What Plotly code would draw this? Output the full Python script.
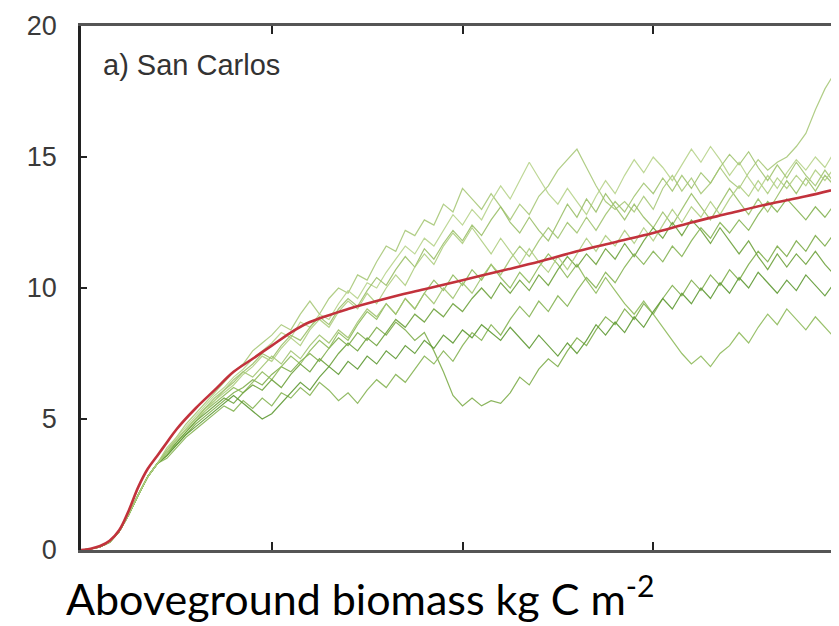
import plotly.graph_objects as go

# time grid (years) for the green stochastic runs: 0..400 step 5
T_STEP = 5
START = [0, 0.04, 0.12, 0.3, 0.7, 1.35, 2.1, 2.8, 3.3]  # t = 0..40

RUN_1 = START + [
    3.9, 4.3, 4.8, 5.2, 5.6, 6.0, 6.4, 6.8,
    7.1, 7.6, 7.9, 8.2, 8.6, 8.4, 9.0, 9.5,
    9.0, 9.6, 10.0, 9.8, 10.5, 10.3, 11.0, 11.6,
    11.4, 12.2, 12.0, 12.6, 12.4, 13.2, 12.9, 13.8,
    13.4, 13.0, 13.6, 13.1, 12.6, 13.2, 12.8, 13.5,
    13.9, 14.5, 14.9, 15.3, 14.6, 13.9, 13.3, 13.0,
    13.3, 12.9, 13.5, 13.0, 13.8, 14.3, 13.7, 14.2,
    13.6, 14.0, 14.6, 14.1, 13.8, 14.4, 14.9, 14.5,
    14.8, 15.0, 15.4, 15.9, 16.8, 17.6, 18.2, 17.4]
RUN_2 = START + [
    3.8, 4.3, 4.7, 5.1, 5.5, 5.9, 6.2, 6.6,
    6.9, 7.3, 7.6, 7.9, 8.3, 8.1, 8.7, 8.5,
    9.0, 8.8, 9.4, 9.9, 9.6, 10.2, 10.0, 10.6,
    11.1, 11.6, 11.3, 11.9, 11.6, 12.2, 12.8, 12.4,
    13.0, 12.6, 13.3, 13.9, 13.4, 14.1, 14.8, 14.2,
    13.6, 13.2, 13.8, 13.3, 12.8, 13.5, 14.1, 13.6,
    14.3, 14.9, 14.4, 15.0, 14.6, 14.1, 14.7, 15.3,
    14.8, 15.4, 14.9, 14.3, 14.8, 14.2, 13.7, 14.3,
    13.8, 14.4, 14.9, 14.5, 15.0, 14.6, 15.2, 15.1]
RUN_3 = START + [
    3.7, 4.2, 4.6, 5.0, 5.4, 5.7, 6.1, 6.4,
    6.8, 7.1, 7.5, 7.3, 7.8, 8.2, 8.0, 8.5,
    8.9, 8.6, 9.2, 9.6, 9.3, 9.9, 10.4, 10.1,
    10.7, 11.2, 10.8, 11.5, 11.1, 11.7, 12.2, 11.8,
    12.4, 12.0, 12.6, 13.1, 12.5, 12.1, 12.7, 12.2,
    11.8, 12.5, 13.2, 12.7, 13.4, 12.9, 13.6, 13.1,
    12.6, 13.2, 12.7, 12.3, 12.9, 12.4, 13.0, 13.6,
    13.1, 12.6, 13.2, 13.8, 13.3, 12.8, 13.4, 12.9,
    13.5, 14.1, 13.6, 14.2, 13.7, 14.3, 13.9, 14.4]
RUN_4 = START + [
    3.6, 4.0, 4.4, 4.8, 5.1, 5.4, 5.7, 6.0,
    6.2, 6.5, 6.3, 6.7, 7.0, 6.8, 7.2, 7.5,
    7.2, 7.7, 8.1, 7.8, 8.3, 8.0, 8.5, 8.2,
    8.7, 8.4, 8.0, 8.3, 7.6, 6.8, 5.9, 5.5,
    5.8, 5.5, 5.7, 5.6, 6.0, 6.6, 6.3, 6.9,
    7.3, 7.0, 7.6, 8.1, 7.8, 8.4, 8.9, 8.6,
    9.2, 8.8, 9.4, 9.0, 9.6, 10.1, 9.7, 10.3,
    9.9, 10.5, 10.1, 10.7, 10.3, 10.9, 11.4, 11.0,
    11.6, 11.2, 11.8, 11.4, 12.0, 11.6, 12.1, 11.7]
RUN_5 = START + [
    3.6, 4.1, 4.5, 4.9, 5.3, 5.6, 5.9, 6.2,
    6.0, 6.4, 6.8, 6.5, 7.0, 7.4, 7.1, 7.6,
    8.0, 7.7, 8.3, 8.0, 8.6, 9.1, 8.8, 9.4,
    9.0, 9.6, 9.2, 9.8, 10.3, 9.9, 10.5, 10.1,
    10.7, 10.3, 10.9, 10.4, 10.0, 10.6, 10.2, 10.8,
    11.3, 10.9, 10.4, 10.9, 10.3, 9.8, 10.4, 9.9,
    9.4, 9.0, 9.5, 9.0, 8.5, 8.0, 7.5, 7.1,
    7.4, 7.0, 7.5, 7.8, 8.3, 7.9, 8.5, 9.0,
    8.6, 9.2, 8.8, 8.4, 8.9, 8.5, 8.1, 7.8]
RUN_6 = START + [
    3.7, 4.1, 4.5, 4.9, 5.2, 5.5, 5.8, 5.6,
    6.0, 6.3, 6.1, 6.5, 6.2, 6.7, 7.1, 6.8,
    7.3, 7.0, 7.5, 7.9, 7.6, 8.1, 7.8, 8.3,
    8.8, 8.5, 9.0, 8.7, 9.2, 8.9, 9.4, 9.1,
    9.6, 10.0, 9.6, 10.2, 9.8, 10.3, 9.9, 10.5,
    10.1, 10.7, 11.2, 10.8, 11.3, 10.9, 11.5, 11.1,
    11.7, 11.2, 11.8, 12.3, 11.9, 12.5, 12.0, 12.6,
    12.2, 11.7, 12.3, 11.8, 11.3, 11.8, 11.2, 10.7,
    11.3, 10.8, 11.3, 10.9, 11.4, 10.9, 10.5, 10.6]
RUN_7 = START + [
    3.5, 3.9, 4.3, 4.6, 4.9, 5.2, 5.5, 5.3,
    5.7, 5.4, 5.8, 5.5, 6.0, 5.8, 6.2, 5.9,
    6.4, 6.1, 5.7, 6.0, 5.6, 6.1, 6.5, 6.2,
    6.7, 6.4, 6.9, 7.4, 7.1, 7.6, 7.2, 7.8,
    8.3, 8.0, 8.6, 8.2, 8.8, 9.3, 8.9, 9.5,
    9.1, 9.7, 9.3, 9.9, 10.4, 10.0, 10.6, 10.2,
    10.8, 11.3, 10.9, 11.4, 11.0, 11.6, 11.2, 11.8,
    12.3, 11.9, 12.5, 12.1, 12.6, 12.2, 12.8, 13.3,
    12.9, 13.4, 13.0, 12.6, 13.1, 12.7, 13.2, 12.8]
RUN_8 = START + [
    3.6, 4.0, 4.4, 4.7, 5.0, 5.3, 5.6, 5.9,
    5.6, 5.3, 5.0, 5.2, 5.6, 6.0, 6.4, 6.1,
    6.6, 7.0, 6.7, 7.2, 6.9, 7.4, 7.1, 7.6,
    7.3, 7.8, 7.5, 8.0, 7.7, 8.2, 7.9, 8.4,
    8.1, 8.6, 8.3, 8.0, 8.5, 8.1, 7.7, 8.2,
    7.8, 7.4, 7.9, 7.5, 8.0, 8.6, 8.2, 8.7,
    8.3, 8.9, 8.5, 9.1, 9.6, 9.2, 9.8, 9.4,
    10.0, 9.6, 10.2, 9.8, 10.4, 10.0, 10.6, 10.2,
    9.8, 10.3, 9.9, 10.5, 10.1, 9.7, 10.2, 9.6]
RUN_9 = START + [
    3.8, 4.2, 4.6, 5.0, 5.4, 5.8, 6.1, 6.5,
    6.8, 6.6, 7.0, 7.4, 7.1, 7.6, 7.3, 7.8,
    8.2, 7.9, 8.4, 8.1, 8.7, 9.2, 8.9, 9.4,
    9.0, 9.6, 9.2, 9.8, 9.4, 10.0, 9.6, 10.2,
    9.8, 10.4, 10.9, 10.5, 11.1, 11.6, 11.2, 11.8,
    12.3, 11.9, 12.5, 12.1, 12.7, 12.2, 12.8, 13.3,
    12.9, 13.5, 14.0, 13.6, 14.2, 13.7, 14.3, 13.8,
    14.4, 14.0, 14.6, 15.1, 14.7, 15.2, 14.6, 14.1,
    14.7, 14.2, 14.8, 14.3, 13.9, 14.5, 14.0, 14.6]
RUN_10 = START + [
    3.7, 4.2, 4.6, 5.0, 5.3, 5.7, 6.0, 6.3,
    6.7, 7.0, 7.4, 7.2, 7.7, 8.1, 7.8, 8.4,
    8.8, 8.5, 9.1, 9.5, 9.2, 9.8, 9.4, 10.0,
    10.5, 10.1, 10.8, 11.3, 10.9, 11.6, 12.1, 11.7,
    12.3, 11.8, 11.3, 11.9, 11.4, 10.9, 11.5, 11.0,
    10.6, 11.2, 10.7, 11.3, 11.9, 11.4, 12.0, 11.6,
    12.2, 11.7, 12.3, 11.8, 12.4, 13.0, 12.5, 13.1,
    12.7, 13.3, 12.8, 13.4, 13.9, 13.5, 14.1, 13.6,
    14.2, 13.8, 14.3, 13.9, 14.5, 14.1, 14.6, 14.2]

RUNS = [RUN_1, RUN_2, RUN_3, RUN_4, RUN_5, RUN_6, RUN_7, RUN_8, RUN_9, RUN_10]
RUN_COLORS = ["#a9c97a", "#b8d48c", "#9cc06a", "#7fae4c", "#8fbb5c",
              "#6fa33e", "#86b454", "#5f9a34", "#a2c572", "#b0cf82"]

# mean trajectory (red)
MEAN_T = [0, 5, 10, 15, 20, 25, 30, 35, 40, 45, 50, 60, 70, 80, 90, 100, 110, 120,
          140, 160, 180, 200, 220, 240, 260, 280, 300, 320, 340, 360, 380, 400]
MEAN_Y = [0, 0.05, 0.15, 0.35, 0.75, 1.5, 2.4, 3.1, 3.6, 4.1, 4.6, 5.4, 6.1, 6.8, 7.3,
          7.8, 8.3, 8.7, 9.2, 9.6, 9.95, 10.3, 10.65, 11.0, 11.4, 11.75, 12.1, 12.5,
          12.85, 13.2, 13.5, 13.85]

Y_TICKS = [0, 5, 10, 15, 20]
X_TICKS = [100, 200, 300]
PANEL_LABEL = "a) San Carlos"
CAPTION = "Aboveground biomass kg C m<sup>-2</sup>"

fig = go.Figure()
for run, col in zip(RUNS, RUN_COLORS):
    fig.add_trace(go.Scatter(
        x=[i * T_STEP for i in range(len(run))], y=run, mode="lines",
        line=dict(color=col, width=1.2), opacity=0.9,
        showlegend=False, hoverinfo="skip"))

fig.add_trace(go.Scatter(
    x=MEAN_T, y=MEAN_Y, mode="lines", line=dict(color="#c2323c", width=2.6, shape="spline"),
    showlegend=False))

fig.update_layout(
    width=839, height=626,
    margin=dict(l=73, r=3, t=18, b=84, autoexpand=False),
    paper_bgcolor="white", plot_bgcolor="white",
    font=dict(family="Liberation Sans, Arial, sans-serif", color="#333333"),
    xaxis=dict(range=[0, 400], tickvals=X_TICKS, showticklabels=False,
               ticks="inside", ticklen=8, tickwidth=2, tickcolor="#222",
               showline=True, linecolor="#555", linewidth=2.5, mirror="ticks",
               showgrid=False, zeroline=False, automargin=False),
    yaxis=dict(range=[0, 20], tickvals=Y_TICKS, ticks="inside", ticklen=6,
               tickwidth=1.5, tickcolor="#222",
               showline=True, linecolor="#222", linewidth=2.5, mirror="ticks",
               showgrid=False, zeroline=False, automargin=False,
               tickfont=dict(size=27, color="#3a3a3a"), ticklabelstandoff=16),
    annotations=[
        dict(text=PANEL_LABEL, xref="paper", yref="paper", x=0.026, y=0.925,
             xanchor="left", yanchor="middle", showarrow=False,
             font=dict(size=29, color="#333333")),
        dict(text=CAPTION, xref="paper", yref="paper", x=-0.022, y=-0.086,
             xanchor="left", yanchor="middle", showarrow=False,
             font=dict(family="Lato, Carlito, Calibri, sans-serif", size=43, color="#000000")),
    ],
)

fig.write_html("out.html")
